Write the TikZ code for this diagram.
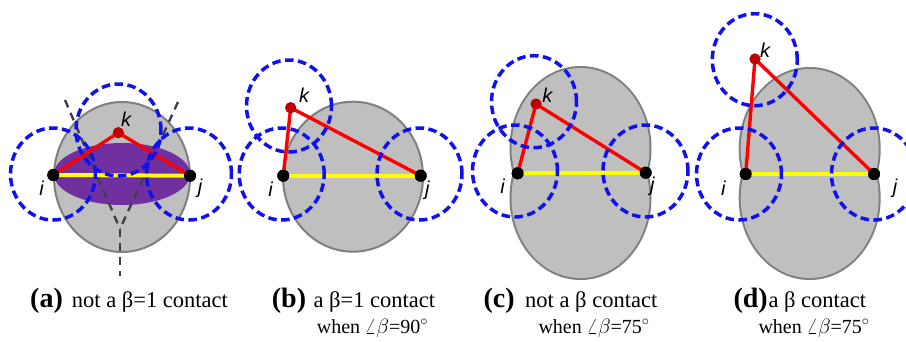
\documentclass[tikz,border=0pt]{standalone}
\usepackage{fontspec}
\setmainfont{Liberation Serif}
\newfontfamily\lblfont{Liberation Sans}
\definecolor{shapegray}{HTML}{BFBFBF}
\definecolor{edgegray}{HTML}{7F7F7F}
\definecolor{cblue}{HTML}{1010F0}
\definecolor{cpurple}{HTML}{7030A0}
\definecolor{cyellow}{HTML}{FFFF00}
\definecolor{cred}{HTML}{FF0000}
\definecolor{kdotc}{HTML}{C00000}
\definecolor{guidegray}{HTML}{404040}
\tikzset{
  probe/.style={draw=cblue, line width=3.5pt, dash pattern=on 8.5pt off 4.5pt},
  redline/.style={draw=cred, line width=3.4pt},
  yline/.style={draw=cyellow, line width=4pt},
  blobedge/.style={draw=edgegray, line width=4pt},
  blobfill/.style={fill=shapegray},
  guide/.style={draw=guidegray, line width=2.4pt, dash pattern=on 8pt off 6pt},
  blackdot/.style={circle, fill=black, inner sep=0pt, minimum size=12pt},
  kdot/.style={circle, fill=kdotc, inner sep=0pt, minimum size=11pt},
  ptlabel/.style={font=\lblfont\itshape\fontsize{20}{20}\selectfont, inner sep=0pt},
  caplbl/.style={anchor=base west, inner sep=0pt, font=\bfseries\fontsize{28}{28}\selectfont},
  captxt/.style={anchor=base west, inner sep=0pt, font=\fontsize{22.5}{22.5}\selectfont},
  capsub/.style={anchor=base west, inner sep=0pt, font=\fontsize{20}{20}\selectfont},
}
\begin{document}
\begin{tikzpicture}[x=1pt, y=-1pt]
\clip (0,0) rectangle (906,341);
\fill[white] (0,0) rectangle (906,341);

% ---------- shapes ----------
% (a)
\draw[blobfill, draw=edgegray, line width=2pt] (122,177) ellipse [x radius=68pt, y radius=75pt];
\fill[cpurple] (122,174) ellipse [x radius=68pt, y radius=31pt];
% (b)
\draw[blobfill, draw=edgegray, line width=2pt] (353,176.7) ellipse [x radius=70pt, y radius=75pt];
% (c) peanut
\draw[blobedge] (580.5,148) ellipse [x radius=69pt, y radius=80pt];
\draw[blobedge] (580.5,198) ellipse [x radius=69pt, y radius=80pt];
\fill[shapegray] (580.5,148) ellipse [x radius=69pt, y radius=80pt];
\fill[shapegray] (580.5,198) ellipse [x radius=69pt, y radius=80pt];
% (d) peanut
\draw[blobedge] (809.7,149) ellipse [x radius=69pt, y radius=80pt];
\draw[blobedge] (809.7,198) ellipse [x radius=69pt, y radius=80pt];
\fill[shapegray] (809.7,149) ellipse [x radius=69pt, y radius=80pt];
\fill[shapegray] (809.7,198) ellipse [x radius=69pt, y radius=80pt];

% ---------- guide lines of (a) ----------
\coordinate (gl) at (65,100);
\coordinate (gr) at (178,102);
\coordinate (gv) at (120,229);
\coordinate (gb) at (120,276);
\draw[guide] (gl) -- (gv);
\draw[guide] (gr) -- (gv);
\draw[guide] (gv) -- (gb);

% ---------- points ----------
\node[blackdot] (ai) at (53.3,175) {};
\node[blackdot] (aj) at (190,175.7) {};
\node[kdot] (ak) at (118.3,132.7) {};
\node[blackdot] (bi) at (283.3,175.7) {};
\node[blackdot] (bj) at (420.7,175.7) {};
\node[kdot] (bk) at (290.7,107.7) {};
\node[blackdot] (ci) at (517.7,173.3) {};
\node[blackdot] (cj) at (645.7,172.7) {};
\node[kdot] (ck) at (536,104) {};
\node[blackdot] (di) at (745.7,174) {};
\node[blackdot] (dj) at (874,174) {};
\node[kdot] (dk) at (755,59) {};

% ---------- edges ----------
\foreach \p in {a,b,c,d}{
  \draw[yline] (\p i.center) -- (\p j.center);
  \draw[redline, line join=round] (\p i.center) -- (\p k.center) -- (\p j.center);
}

% ---------- probe circles ----------
\draw[probe] (53,174) ellipse [x radius=42.5pt, y radius=46pt];
\draw[probe] (118.5,130) ellipse [x radius=42.5pt, y radius=46pt];
\draw[probe] (189,174) ellipse [x radius=42.5pt, y radius=46pt];
\draw[probe] (281.7,174) ellipse [x radius=42.5pt, y radius=46pt];
\draw[probe] (289,106) ellipse [x radius=42.5pt, y radius=46pt];
\draw[probe] (419.5,174) ellipse [x radius=42.5pt, y radius=46pt];
\draw[probe] (515,171) ellipse [x radius=42.5pt, y radius=46pt];
\draw[probe] (534,101.7) ellipse [x radius=42.5pt, y radius=46pt];
\draw[probe] (645.5,171) ellipse [x radius=42.5pt, y radius=46pt];
\draw[probe] (739,174) ellipse [x radius=42.5pt, y radius=46pt];
\draw[probe] (754.8,59.7) ellipse [x radius=42.5pt, y radius=46pt];
\draw[probe] (874,174) ellipse [x radius=42.5pt, y radius=46pt];

% redraw dots on top
\foreach \p in {a,b,c,d}{
  \fill[black] (\p i.center) circle [radius=6pt];
  \fill[black] (\p j.center) circle [radius=6pt];
  \fill[kdotc] (\p k.center) circle [radius=5.5pt];
}

% ---------- point labels ----------
\node[ptlabel] (ali) at (41.7,188.3) {i};
\node[ptlabel] (alj) at (200,188.3) {j};
\node[ptlabel] (alk) at (126,119.7) {k};
\node[ptlabel] (bli) at (270.7,189.3) {i};
\node[ptlabel] (blj) at (427.3,190.7) {j};
\node[ptlabel] (blk) at (304,95) {k};
\node[ptlabel] (cli) at (502.7,186) {i};
\node[ptlabel] (clj) at (652.3,186) {j};
\node[ptlabel] (clk) at (547.3,95) {k};
\node[ptlabel] (dli) at (723.3,188.3) {i};
\node[ptlabel] (dlj) at (895,188.3) {j};
\node[ptlabel] (dlk) at (765,50) {k};

% ---------- captions ----------
\node[caplbl] (capa) at (30,307) {(a)};
\node[captxt] (txta) at (71.7,307) {not a β=1 contact};
\node[caplbl] (capb) at (271.7,307) {(b)};
\node[captxt] (txtb) at (313.3,307) {a β=1 contact};
\node[capsub] (subb) at (316.7,333) {when $\angle\beta$=90$^{\circ}$};
\node[caplbl] (capc) at (483.3,307) {(c)};
\node[captxt] (txtc) at (525,307) {not a β contact};
\node[capsub] (subc) at (538.3,333) {when $\angle\beta$=75$^{\circ}$};
\node[caplbl] (capd) at (733.3,307) {(d)};
\node[captxt] (txtd) at (768.3,307) {a β contact};
\node[capsub] (subd) at (758.3,333) {when $\angle\beta$=75$^{\circ}$};
\end{tikzpicture}
\end{document}
